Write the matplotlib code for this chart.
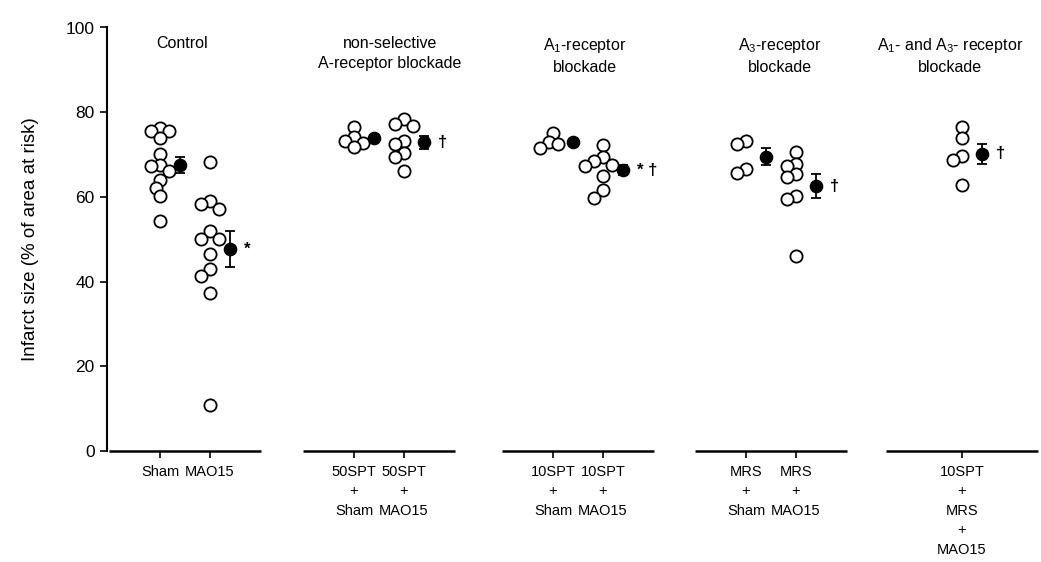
import matplotlib
matplotlib.use("Agg")
import matplotlib.pyplot as plt
import numpy as np

plt.rcParams["font.family"] = ["Liberation Sans", "DejaVu Sans"]
plt.rcParams["mathtext.fontset"] = "custom"
plt.rcParams["mathtext.rm"] = "Liberation Sans"
plt.rcParams["mathtext.it"] = "Liberation Sans:italic"

# treatment groups and the conditions inside each
group_titles = [
    "Control",
    "non-selective\nA-receptor blockade",
    "A$_1$-receptor\nblockade",
    "A$_3$-receptor\nblockade",
    "A$_1$- and A$_3$- receptor\nblockade",
]
condition_labels = [
    "Sham", "MAO15",
    "50SPT\n+\nSham", "50SPT\n+\nMAO15",
    "10SPT\n+\nSham", "10SPT\n+\nMAO15",
    "MRS\n+\nSham", "MRS\n+\nMAO15",
    "10SPT\n+\nMRS\n+\nMAO15",
]
condition_group = [0, 0, 1, 1, 2, 2, 3, 3, 4]

# infarct size per animal (% of area at risk)
sham = [76.3, 75.5, 75.5, 73.9, 70.2, 67.6, 67.4, 66.0, 64.1, 62.1, 60.1, 54.3]
mao15 = [68.2, 59.0, 58.4, 57.2, 51.9, 50.1, 50.1, 46.4, 42.9, 41.3, 37.4, 10.8]
spt50_sham = [76.6, 74.1, 73.3, 72.7, 71.9]
spt50_mao15 = [78.4, 77.1, 76.8, 73.3, 72.5, 70.4, 69.4, 66.0]
spt10_sham = [75.0, 73.0, 72.6, 71.6]
spt10_mao15 = [72.2, 69.4, 68.4, 67.6, 67.4, 64.9, 61.6, 59.8]
mrs_sham = [73.1, 72.6, 66.7, 65.6]
mrs_mao15 = [70.5, 67.8, 67.4, 65.4, 64.7, 60.1, 59.6, 46.0]
spt10_mrs_mao15 = [76.5, 73.9, 69.7, 68.8, 62.7]

animals = [sham, mao15, spt50_sham, spt50_mao15, spt10_sham, spt10_mao15,
           mrs_sham, mrs_mao15, spt10_mrs_mao15]

# group mean and SEM
means = [67.6, 47.7, 73.9, 72.9, 73.0, 66.3, 69.5, 62.5, 70.2]
sems = [1.9, 4.2, 0.6, 1.5, 0.5, 1.2, 2.0, 2.8, 2.4]

# significance marks: * vs Sham, dagger vs MAO15
marks = ["", "*", "", "\u2020", "", "* \u2020", "", "\u2020", "\u2020"]

# layout
xpos = np.array([0, 1, 3.88, 4.88, 7.86, 8.86, 11.72, 12.72, 16.04])
mean_shift = 0.4
title_x = [0.45, 4.6, 8.5, 12.4, 15.8]
seg_half = 1.52

W, H = 1041, 562
fig = plt.figure(figsize=(W / 100, H / 100), dpi=100)
ax = fig.add_axes([107 / W, (H - 451) / H, (1037 - 107) / W, (451 - 27.5) / H])
ax.set_xlim(-1.06, 17.54)
ax.set_ylim(0, 100)

# pixels per data unit, used to keep the scatter points from piling up
px_x = (1037 - 107) / (17.54 + 1.06)
px_y = (451 - 27.5) / 100.0


def swarm(vals, min_dist=9.0, step=4.5):
    placed = []
    offs = []
    for v in vals:
        yp = v * px_y
        k = 0
        while True:
            cands = [0.0] if k == 0 else [-k * step, k * step]
            hit = None
            for dx in cands:
                if all((dx - px) ** 2 + (yp - py) ** 2 >= min_dist ** 2 for px, py in placed):
                    hit = dx
                    break
            if hit is not None:
                placed.append((hit, yp))
                offs.append(hit / px_x)
                break
            k += 1
    return np.array(offs)


for i, vals in enumerate(animals):
    vals = np.array(vals)
    xs = xpos[i] + swarm(vals)
    ax.plot(xs, vals, "o", ms=8.8, mfc="white", mec="black", mew=1.3,
            linestyle="none", zorder=3)
    mx = xpos[i] + mean_shift
    ax.errorbar(mx, means[i], yerr=sems[i], fmt="o", ms=8.8, color="black",
                ecolor="black", elinewidth=1.3, capsize=3.5, capthick=1.3, zorder=4)
    if marks[i]:
        ax.text(mx + 0.28, means[i], marks[i], ha="left", va="center",
                fontsize=12, fontweight="bold")

# broken baseline, one segment per group
for g in range(len(group_titles)):
    cx = xpos[[i for i, c in enumerate(condition_group) if c == g]].mean()
    ax.plot([cx - seg_half, cx + seg_half], [0, 0], color="black", lw=1.8,
            clip_on=False, solid_capstyle="butt", zorder=2)
    ax.text(title_x[g], 98.0, group_titles[g], ha="center", va="top",
            fontsize=11.5, linespacing=1.45)

for s in ["top", "right", "bottom"]:
    ax.spines[s].set_visible(False)
ax.spines["left"].set_linewidth(1.5)

ax.set_yticks([0, 20, 40, 60, 80, 100])
ax.tick_params(axis="y", direction="out", length=5, width=1.2, labelsize=12.5, pad=4)
ax.set_xticks(xpos)
ax.set_xticklabels(condition_labels, fontsize=10.5, linespacing=1.5,
                   family=["Liberation Sans Narrow", "Liberation Sans"])
ax.tick_params(axis="x", direction="out", length=5, width=1.2, pad=5)
ax.set_ylabel("Infarct size (% of area at risk)", fontsize=13.5, labelpad=19)

fig.savefig("out.png", dpi=100)
